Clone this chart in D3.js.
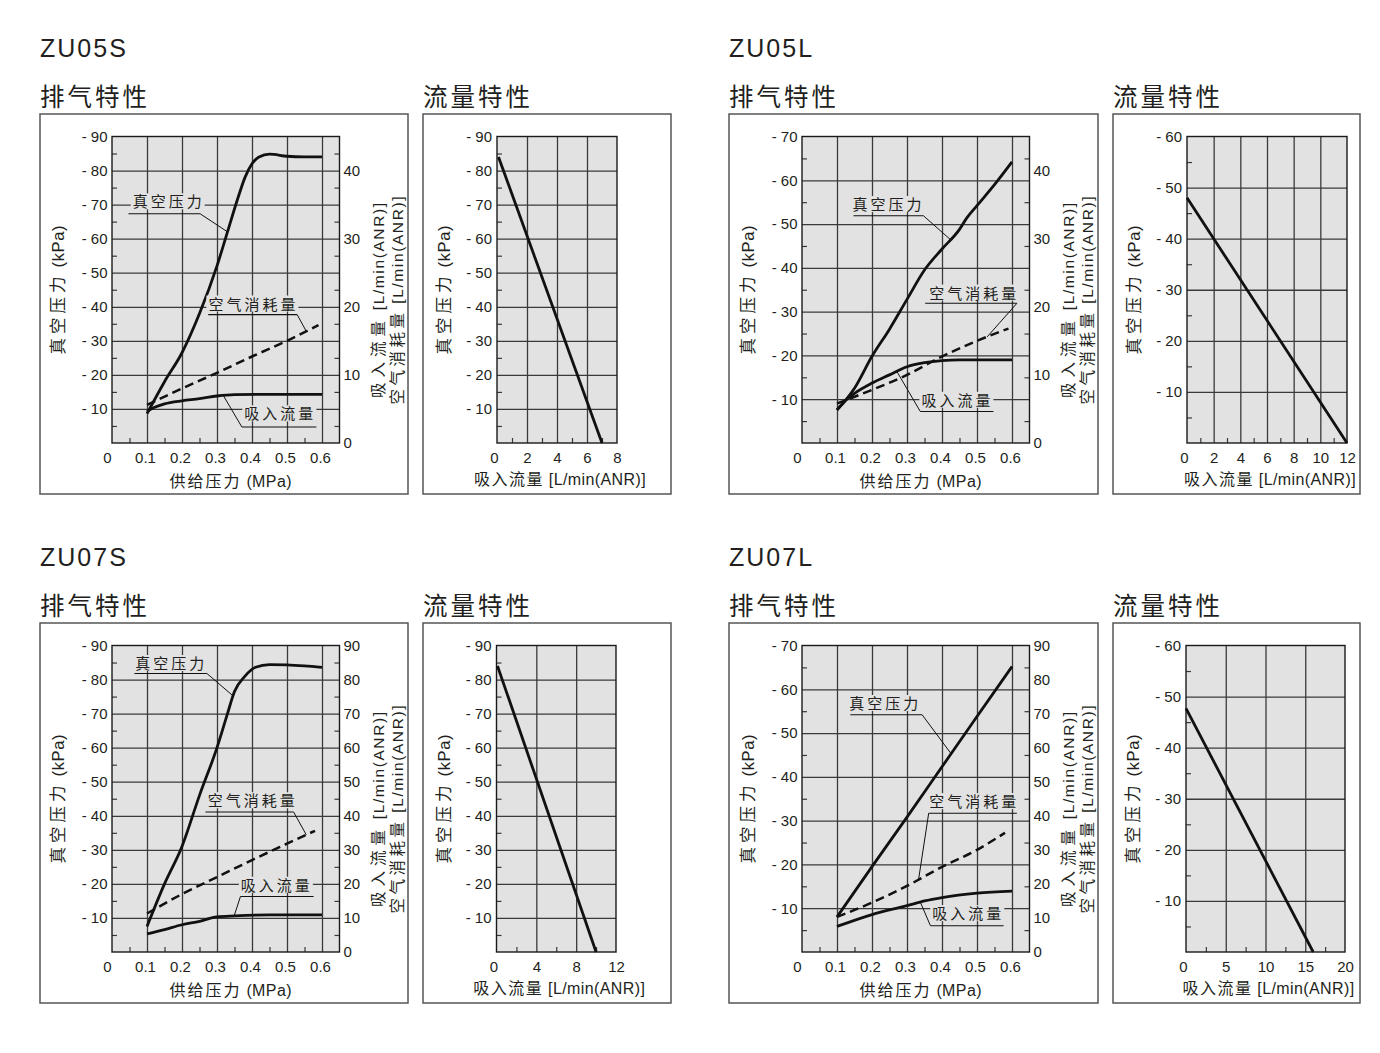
<!DOCTYPE html>
<html><head><meta charset="utf-8">
<script src="https://cdn.jsdelivr.net/npm/d3@7"></script>
<style>
body{margin:0;background:#fff;}
svg{display:block;font-family:"Liberation Sans",Arial,Helvetica,"Noto Sans CJK SC",sans-serif;}
</style></head><body>
<svg id="c" width="1380" height="1053"></svg>
<script>
// ---------------- DATA ----------------
const supplyTicks = [0, 0.1, 0.2, 0.3, 0.4, 0.5, 0.6];
const supplyTickLabels = ["0", "0.1", "0.2", "0.3", "0.4", "0.5", "0.6"];
const supplyGrid = [0.1, 0.2, 0.3, 0.4, 0.5, 0.6];
const supplyMinor = [0.05, 0.15, 0.25, 0.35, 0.45, 0.55];

// ZU05S exhaust characteristics [supply MPa, value]
const zu05sVacuum = [[0.1,8.6],[0.15,18],[0.2,26.5],[0.25,38],[0.3,52],[0.33,62],[0.36,72],[0.38,78],[0.4,82],[0.42,84],[0.45,84.8],[0.5,84.2],[0.55,84],[0.6,84]];
const zu05sAir = [[0.1,5.6],[0.2,8.0],[0.3,10.3],[0.4,12.7],[0.5,15.0],[0.59,17.3]];
const zu05sSuction = [[0.1,4.6],[0.12,5.2],[0.15,5.75],[0.2,6.2],[0.25,6.5],[0.3,6.9],[0.35,7.1],[0.45,7.15],[0.6,7.15]];
const zu05sVacTicks = [10,20,30,40,50,60,70,80,90];
const zu05sRightTicks = [0,10,20,30,40];
const zu05sFlow = [[0.1,84],[7,0]];
const zu05sFlowTicks = [0,2,4,6,8];

// ZU05L
const zu05lVacuum = [[0.1,7.5],[0.15,12.5],[0.2,19.8],[0.25,26],[0.3,32.8],[0.35,39.5],[0.4,44.3],[0.45,48.8],[0.47,51.3],[0.5,54.2],[0.55,59],[0.6,64.2]];
const zu05lAir = [[0.1,5.8],[0.2,7.8],[0.3,10.0],[0.4,12.7],[0.5,15.0],[0.59,16.8]];
const zu05lSuction = [[0.1,4.9],[0.13,6.5],[0.15,7.3],[0.2,8.8],[0.25,10],[0.3,11.2],[0.35,11.8],[0.4,12.1],[0.45,12.2],[0.6,12.2]];
const zu05lVacTicks = [10,20,30,40,50,60,70];
const zu05lRightTicks = [0,10,20,30,40];
const zu05lFlow = [[0,48],[12,0]];
const zu05lFlowTicks = [0,2,4,6,8,10,12];
const zu05lFlowVacTicks = [10,20,30,40,50,60];

// ZU07S
const zu07sVacuum = [[0.1,7.5],[0.15,20],[0.2,31],[0.25,46],[0.3,60],[0.33,70],[0.35,76.5],[0.38,81],[0.41,83.6],[0.45,84.4],[0.5,84.3],[0.55,84],[0.6,83.6]];
const zu07sAir = [[0.1,11.3],[0.2,17],[0.3,22],[0.4,27],[0.5,31.8],[0.58,35.6]];
const zu07sSuction = [[0.1,5.3],[0.15,6.6],[0.2,8.0],[0.25,9.0],[0.3,10.3],[0.35,10.6],[0.45,10.9],[0.6,10.9]];
const zu07sVacTicks = [10,20,30,40,50,60,70,80,90];
const zu07sRightTicks = [0,10,20,30,40,50,60,70,80,90];
const zu07sFlow = [[0.1,84],[10,0]];
const zu07sFlowTicks = [0,4,8,12];

// ZU07L
const zu07lVacuum = [[0.1,8],[0.2,19.5],[0.3,30.8],[0.4,42.3],[0.5,53.8],[0.6,65.2]];
const zu07lAir = [[0.1,10.3],[0.2,14.5],[0.3,19.4],[0.4,25],[0.5,30],[0.58,35]];
const zu07lSuction = [[0.1,7.5],[0.2,11],[0.3,13.6],[0.35,15],[0.4,16],[0.5,17.3],[0.6,17.9]];
const zu07lVacTicks = [10,20,30,40,50,60,70];
const zu07lRightTicks = [0,10,20,30,40,50,60,70,80,90];
const zu07lFlow = [[0,47.7],[16,0]];
const zu07lFlowTicks = [0,5,10,15,20];
const zu07lFlowVacTicks = [10,20,30,40,50,60];

// Annotation label anchors (data units: supply MPa / vacuum kPa)
const zu05sNotes = [
  {text:"真空压力", series:"vacuum", tx:0.162, ty:69.2, ul:[0.047,0.252], uy:67.3, from:1, tox:0.33},
  {text:"空气消耗量", series:"air", tx:0.404, ty:39.2, ul:[0.275,0.529], uy:37.7, from:1, tox:0.555},
  {text:"吸入流量", series:"suction", tx:0.481, ty:6.95, ul:[0.371,0.584], uy:4.7, from:0, tox:0.318}
];
const zu05lNotes = [
  {text:"真空压力", series:"vacuum", tx:0.247, ty:53.2, ul:[0.147,0.347], uy:51.9, from:1, tox:0.424},
  {text:"空气消耗量", series:"air", tx:0.492, ty:33.0, ul:[0.352,0.614], uy:31.9, from:1, tox:0.529},
  {text:"吸入流量", series:"suction", tx:0.444, ty:8.5, ul:[0.338,0.547], uy:7.2, from:0, tox:0.271}
];
const zu07sNotes = [
  {text:"真空压力", series:"vacuum", tx:0.169, ty:83.1, ul:[0.064,0.271], uy:81.8, from:1, tox:0.346},
  {text:"空气消耗量", series:"air", tx:0.402, ty:42.8, ul:[0.267,0.519], uy:41.1, from:1, tox:0.555},
  {text:"吸入流量", series:"suction", tx:0.471, ty:18.0, ul:[0.367,0.576], uy:16.3, from:0, tox:0.349}
];
const zu07lNotes = [
  {text:"真空压力", series:"vacuum", tx:0.238, ty:55.5, ul:[0.138,0.343], uy:54.2, from:1, tox:0.426},
  {text:"空气消耗量", series:"air", tx:0.492, ty:33.1, ul:[0.362,0.614], uy:31.7, from:0, tox:0.333},
  {text:"吸入流量", series:"suction", tx:0.475, ty:7.5, ul:[0.367,0.576], uy:6.0, from:0, tox:0.338}
];

// ---------------- DRAWING ----------------
const svg = d3.select("#c");
svg.append("rect").attr("width",1380).attr("height",1053).attr("fill","#fff");
const INK = "#231f20", BG = "#e2e2e2", GRID = "#3a3a3a";

function mixed(sel, parts){
  parts.forEach(p => sel.append("tspan").attr("letter-spacing", p.ls).text(p.t));
  return sel;
}
function interp(series, xv){
  for (let i=0;i<series.length-1;i++){
    const a=series[i], b=series[i+1];
    if (xv>=a[0] && xv<=b[0]) return a[1]+(b[1]-a[1])*(xv-a[0])/(b[0]-a[0]);
  }
  return series[series.length-1][1];
}
function styleAxis(g, fs){
  g.select(".domain").remove();
  g.attr("font-family", null).attr("font-size", fs || 15);
  g.selectAll("text").attr("fill", INK);
  g.selectAll("line").attr("stroke", GRID).attr("stroke-width", 1.2);
}
const kpaFmt = v => "- " + v;

function plotFrame(g, x, y, xGrid, yGrid, xMinor, yMinor, mirrorRight){
  const [pl, pr] = x.range(), [pb, pt] = y.range();
  g.append("rect").attr("x",pl).attr("y",pt).attr("width",pr-pl).attr("height",pb-pt).attr("fill",BG);
  const gx = g.append("g").attr("transform",`translate(0,${pb})`)
    .call(d3.axisBottom(x).tickValues(xGrid).tickSize(-(pb-pt)).tickFormat(""));
  styleAxis(gx); gx.selectAll("line").attr("stroke-width",1.3);
  const gy = g.append("g").attr("transform",`translate(${pl},0)`)
    .call(d3.axisLeft(y).tickValues(yGrid).tickSize(-(pr-pl)).tickFormat(""));
  styleAxis(gy); gy.selectAll("line").attr("stroke-width",1.3);
  const mb = g.append("g").attr("transform",`translate(0,${pb})`)
    .call(d3.axisTop(x).tickValues(xMinor).tickSize(5).tickFormat(""));
  styleAxis(mb);
  const ml = g.append("g").attr("transform",`translate(${pl},0)`)
    .call(d3.axisRight(y).tickValues(yMinor).tickSize(5).tickFormat(""));
  styleAxis(ml);
  if (mirrorRight){
    const mr = g.append("g").attr("transform",`translate(${pr},0)`)
      .call(d3.axisLeft(y).tickValues(yMinor).tickSize(5).tickFormat(""));
    styleAxis(mr);
  }
  g.append("rect").attr("x",pl).attr("y",pt).attr("width",pr-pl).attr("height",pb-pt)
    .attr("fill","none").attr("stroke","#1a1a1a").attr("stroke-width",1.4);
}

function box(g, x0, y0, x1, y1){
  g.append("rect").attr("x",x0).attr("y",y0).attr("width",x1-x0).attr("height",y1-y0)
    .attr("fill","#fff").attr("stroke","#555").attr("stroke-width",1.5);
}

function yTitle(g, cx, cy){
  mixed(g.append("text").attr("transform",`translate(${cx},${cy}) rotate(-90)`)
    .attr("text-anchor","middle").attr("dominant-baseline","central")
    .attr("font-size",16.5).attr("fill",INK),
    [{t:"真空压力",ls:4},{t:" (kPa)",ls:0.6}]);
}

function exhaust(g, c){
  box(g, c.box[0], c.box[1], c.box[2], c.box[3]);
  const x = d3.scaleLinear().domain([0,0.65]).range([c.pl, c.pl+227.5]);
  const y = d3.scaleLinear().domain([0,c.yMax]).range([c.pb, c.pt]);
  const yr = d3.scaleLinear().domain([0,c.rMax]).range([c.pb, c.pt]);
  const yMinor = d3.range(5, c.yMax, 10);
  plotFrame(g, x, y, supplyGrid, c.vacTicks.filter(v=>v<c.yMax), supplyMinor, yMinor, true);

  const lineL = d3.line().x(d=>x(d[0])).y(d=>y(d[1])).curve(d3.curveMonotoneX);
  const lineR = d3.line().x(d=>x(d[0])).y(d=>yr(d[1])).curve(d3.curveMonotoneX);
  g.append("path").attr("d",lineR(c.air)).attr("fill","none").attr("stroke","#111")
    .attr("stroke-width",2.5).attr("stroke-dasharray","9,5");
  g.append("path").attr("d",lineR(c.suction)).attr("fill","none").attr("stroke","#111").attr("stroke-width",2.8);
  g.append("path").attr("d",lineL(c.vacuum)).attr("fill","none").attr("stroke","#111").attr("stroke-width",2.8)
    .attr("stroke-linejoin","round");

  // annotations
  c.notes.forEach(n=>{
    const t = g.append("text").attr("x",x(n.tx)).attr("y",y(n.ty)).attr("text-anchor","middle")
      .attr("font-size",15).attr("letter-spacing",3).attr("fill",INK).text(n.text);
    const bb = t.node().getBBox();
    g.insert("rect", () => t.node()).attr("x",bb.x-2).attr("y",bb.y).attr("width",bb.width+2).attr("height",bb.height-1)
      .attr("fill",BG);
    const uy = y(n.uy);
    g.append("line").attr("x1",x(n.ul[0])).attr("x2",x(n.ul[1])).attr("y1",uy).attr("y2",uy)
      .attr("stroke","#111").attr("stroke-width",1.1);
    const s = n.series==="vacuum" ? c.vacuum : (n.series==="air" ? c.air : c.suction);
    const sc = n.series==="vacuum" ? y : yr;
    g.append("line").attr("x1",x(n.ul[n.from])).attr("y1",uy)
      .attr("x2",x(n.tox)).attr("y2",sc(interp(s,n.tox)))
      .attr("stroke","#111").attr("stroke-width",1);
  });

  // tick labels
  const ax = g.append("g").attr("transform",`translate(0,${c.pb})`)
    .call(d3.axisBottom(x).tickValues(supplyTicks).tickSize(0).tickPadding(9)
      .tickFormat((d,i)=>supplyTickLabels[i]));
  styleAxis(ax);
  ax.selectAll("text").attr("dx",(d)=> d===0 ? -5 : -2);
  const al = g.append("g").attr("transform",`translate(${c.pl},0)`)
    .call(d3.axisLeft(y).tickValues(c.vacTicks).tickSize(0).tickPadding(4.5).tickFormat(kpaFmt));
  styleAxis(al);
  const ar = g.append("g").attr("transform",`translate(${x.range()[1]},0)`)
    .call(d3.axisRight(yr).tickValues(c.rTicks).tickSize(0).tickPadding(4));
  styleAxis(ar);

  // titles
  const pr = x.range()[1];
  mixed(g.append("text").attr("x",(c.pl+pr)/2+5).attr("y",c.pb+44).attr("text-anchor","middle")
    .attr("font-size",16).attr("fill",INK), [{t:"供给压力",ls:2},{t:" (MPa)",ls:0.4}]);
  yTitle(g, c.pl-54, (c.pt+c.pb)/2);
  const cyR = (c.pt+c.pb)/2 + 10;
  mixed(g.append("text").attr("transform",`translate(${pr+38},${cyR}) rotate(-90)`)
    .attr("text-anchor","middle").attr("dominant-baseline","central").attr("font-size",15.5).attr("fill",INK),
    [{t:"吸入流量",ls:5},{t:" [L/min(ANR)]",ls:1.6}]);
  mixed(g.append("text").attr("transform",`translate(${pr+57},${cyR}) rotate(-90)`)
    .attr("text-anchor","middle").attr("dominant-baseline","central").attr("font-size",15.5).attr("fill",INK),
    [{t:"空气消耗量",ls:3.5},{t:" [L/min(ANR)]",ls:1.6}]);
}

function flow(g, c){
  box(g, c.box[0], c.box[1], c.box[2], c.box[3]);
  const x = d3.scaleLinear().domain([0,c.xMax]).range([c.pl, c.pr]);
  const y = d3.scaleLinear().domain([0,c.yMax]).range([c.pb, c.pt]);
  const step = c.xTicks[1]-c.xTicks[0];
  const xMinor = c.xTicks.slice(0,-1).map(v=>v+step/2);
  plotFrame(g, x, y, c.xTicks.filter(v=>v>0 && v<c.xMax), c.vacTicks.filter(v=>v<c.yMax), xMinor, d3.range(5,c.yMax,10), false);
  const line = d3.line().x(d=>x(d[0])).y(d=>y(d[1]));
  g.append("path").attr("d",line(c.data)).attr("fill","none").attr("stroke","#111").attr("stroke-width",2.8);
  const ax = g.append("g").attr("transform",`translate(0,${c.pb})`)
    .call(d3.axisBottom(x).tickValues(c.xTicks).tickSize(0).tickPadding(9));
  styleAxis(ax);
  ax.selectAll("text").attr("dx",d=> d===0 ? -3 : 0);
  const al = g.append("g").attr("transform",`translate(${c.pl},0)`)
    .call(d3.axisLeft(y).tickValues(c.vacTicks).tickSize(0).tickPadding(5).tickFormat(kpaFmt));
  styleAxis(al);
  mixed(g.append("text").attr("x",(c.pl+c.pr)/2+3).attr("y",c.pb+42).attr("text-anchor","middle")
    .attr("font-size",16).attr("fill",INK), [{t:"吸入流量",ls:1.5},{t:" [L/min(ANR)]",ls:0.4}]);
  yTitle(g, c.pl-53, (c.pt+c.pb)/2);
}

function heading(g, x, y, txt, size, ls){
  g.append("text").attr("x",x).attr("y",y).attr("font-size",size).attr("letter-spacing",ls)
    .attr("fill",INK).text(txt);
}

const groups = [
  {name:"ZU05S", dx:0, dy:0, vac:zu05sVacuum, air:zu05sAir, suc:zu05sSuction, yMax:90, rMax:45,
   vacTicks:zu05sVacTicks, rTicks:zu05sRightTicks, notes:zu05sNotes,
   flow:{data:zu05sFlow, xMax:8, xTicks:zu05sFlowTicks, yMax:90, vacTicks:zu05sVacTicks, pl:497, pr:617}},
  {name:"ZU05L", dx:690, dy:0, vac:zu05lVacuum, air:zu05lAir, suc:zu05lSuction, yMax:70, rMax:45,
   vacTicks:zu05lVacTicks, rTicks:zu05lRightTicks, notes:zu05lNotes,
   flow:{data:zu05lFlow, xMax:12, xTicks:zu05lFlowTicks, yMax:60, vacTicks:zu05lFlowVacTicks, pl:1187, pr:1347}},
  {name:"ZU07S", dx:0, dy:509, vac:zu07sVacuum, air:zu07sAir, suc:zu07sSuction, yMax:90, rMax:90,
   vacTicks:zu07sVacTicks, rTicks:zu07sRightTicks, notes:zu07sNotes,
   flow:{data:zu07sFlow, xMax:12, xTicks:zu07sFlowTicks, yMax:90, vacTicks:zu07sVacTicks, pl:496.5, pr:616}},
  {name:"ZU07L", dx:690, dy:509, vac:zu07lVacuum, air:zu07lAir, suc:zu07lSuction, yMax:70, rMax:90,
   vacTicks:zu07lVacTicks, rTicks:zu07lRightTicks, notes:zu07lNotes,
   flow:{data:zu07lFlow, xMax:20, xTicks:zu07lFlowTicks, yMax:60, vacTicks:zu07lFlowVacTicks, pl:1186, pr:1345}}
];

groups.forEach(gr=>{
  const g = svg.append("g");
  const dy = gr.dy, dx = gr.dx;
  const left = dx===0 ? 40 : 729;
  const flowLeft = dx===0 ? 423 : 1113;
  heading(g, left, 57+dy, gr.name, 25, 2);
  heading(g, left, 106+dy, "排气特性", 24.5, 3);
  heading(g, flowLeft, 106+dy, "流量特性", 24.5, 3);
  exhaust(g, {box:[left, 114+dy, dx===0?408:1098, 494+dy], pl:112+dx, pt:136.5+dy, pb:443+dy,
    yMax:gr.yMax, rMax:gr.rMax, vacTicks:gr.vacTicks, rTicks:gr.rTicks,
    vacuum:gr.vac, air:gr.air, suction:gr.suc, notes:gr.notes});
  const f = gr.flow;
  flow(g, {box:[flowLeft, 114+dy, dx===0?671:1360, 494+dy], pl:f.pl, pr:f.pr, pt:136.5+dy, pb:443+dy,
    xMax:f.xMax, xTicks:f.xTicks, yMax:f.yMax, vacTicks:f.vacTicks, data:f.data});
});
</script>
</body></html>
